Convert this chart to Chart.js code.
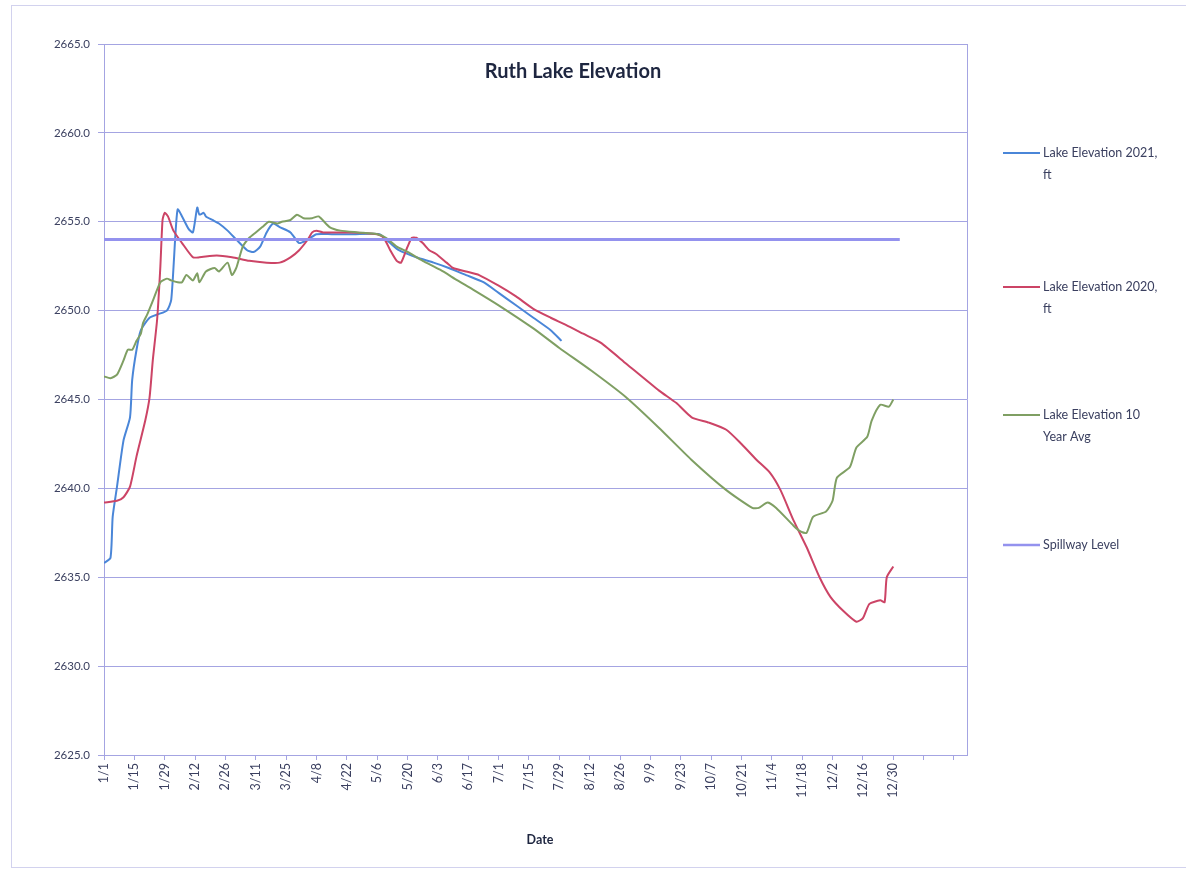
<!DOCTYPE html>
<html>
<head>
<meta charset="utf-8">
<script src="https://cdn.jsdelivr.net/npm/chart.js@4.4.1/dist/chart.umd.min.js"></script>
<style>
  html, body { margin: 0; padding: 0; background: #ffffff; }
  #wrap { position: relative; width: 1186px; height: 871px; }
</style>
</head>
<body>
<div id="wrap"><canvas id="c"></canvas></div>
<script>
// ---------- data ----------
const chartTitle = 'Ruth Lake Elevation';
const xAxisTitle = 'Date';

// x axis: day of year (0 = 1/1), tick every 14 days
const tickDays   = [0,14,28,42,56,70,84,98,112,126,140,154,168,182,196,210,224,238,252,266,280,294,308,322,336,350,364,378,392];
const tickLabels = ['1/1','1/15','1/29','2/12','2/26','3/11','3/25','4/8','4/22','5/6','5/20','6/3','6/17','7/1','7/15','7/29','8/12','8/26','9/9','9/23','10/7','10/21','11/4','11/18','12/2','12/16','12/30','',''];
const yTickValues = [2625,2630,2635,2640,2645,2650,2655,2660,2665];

const seriesNames = ['Lake Elevation 2021, ft','Lake Elevation 2020, ft','Lake Elevation 10 Year Avg','Spillway Level'];
const legendLines = [['Lake Elevation 2021,','ft'],['Lake Elevation 2020,','ft'],['Lake Elevation 10','Year Avg'],['Spillway Level']];

const days2021 = [0,3,4,6,9,12,13,15,17,21,25,29,31,33,34,36,39,41,43,44,46,47,50,53,57,61,66,69,72,75,78,81,86,90,94,98,105,115,127,132,136,144,152,159,167,175,182,190,198,206,211];
const elev2021 = [2635.8,2636.1,2638.4,2640.1,2642.7,2644.0,2646.1,2647.8,2648.9,2649.6,2649.8,2650.0,2650.6,2654.4,2655.7,2655.3,2654.6,2654.4,2655.8,2655.4,2655.5,2655.3,2655.1,2654.9,2654.5,2654.0,2653.4,2653.3,2653.6,2654.4,2654.9,2654.7,2654.4,2653.8,2654.0,2654.3,2654.3,2654.3,2654.3,2653.8,2653.4,2653.0,2652.7,2652.4,2652.0,2651.6,2651.0,2650.3,2649.6,2648.9,2648.3];

const days2020 = [0,6,9,12,15,19,21,22.5,24.5,26,27,28,29.5,32,36,41,44,52,59,67,75,81,86,90,94,96,98,101,113,126,129,132,135,137,140,142,144,147,150,153,158,161,167,173,182,190,198,206,213,221,229,241,256,264,271,279,287,294,301,307,312,318,324,330,335,341,347,350,353,358,360,361,364];
const elev2020 = [2639.2,2639.3,2639.5,2640.1,2641.8,2643.8,2645.1,2647.2,2649.5,2652.5,2655.1,2655.5,2655.3,2654.5,2653.8,2653.0,2653.0,2653.1,2653.0,2652.8,2652.7,2652.7,2653.0,2653.4,2654.0,2654.4,2654.5,2654.4,2654.4,2654.3,2654.1,2653.4,2652.8,2652.7,2653.6,2654.1,2654.1,2653.8,2653.4,2653.2,2652.7,2652.4,2652.2,2652.0,2651.4,2650.8,2650.1,2649.6,2649.2,2648.7,2648.2,2647.0,2645.5,2644.8,2644.0,2643.7,2643.3,2642.5,2641.6,2640.9,2639.9,2638.2,2636.7,2635.0,2633.9,2633.1,2632.5,2632.7,2633.5,2633.7,2633.6,2635.0,2635.6];

const daysAvg = [0,3,6,9,11,13,15,17,18,20,23,26,29,31,34,36,38,41,43,44,47,51,53,57,59,61,64,67,70,73,76,80,82,86,89,92,96,99,104,109,117,126,130,135,140,147,155,163,170,182,198,210,225,241,256,271,287,299,302,306,310,318,321,324,327,333,336,338,344,347,352,354,358,362,364];
const elevAvg = [2646.3,2646.2,2646.4,2647.2,2647.8,2647.8,2648.3,2648.7,2649.3,2649.8,2650.7,2651.6,2651.8,2651.7,2651.6,2651.6,2652.0,2651.7,2652.1,2651.6,2652.2,2652.4,2652.2,2652.7,2652.0,2652.4,2653.6,2654.1,2654.4,2654.7,2655.0,2654.9,2655.0,2655.1,2655.4,2655.2,2655.2,2655.3,2654.7,2654.5,2654.4,2654.3,2654.1,2653.6,2653.3,2652.8,2652.3,2651.7,2651.2,2650.3,2649.0,2647.9,2646.6,2645.1,2643.4,2641.6,2639.9,2638.9,2638.9,2639.2,2638.9,2637.9,2637.6,2637.5,2638.4,2638.7,2639.3,2640.6,2641.2,2642.3,2642.9,2643.8,2644.7,2644.6,2645.0];

const daysSpill = [0,367];
const elevSpill = [2654.0,2654.0];

// ---------- styling ----------
const seriesColors = ['#4a86d8','#cc4466','#7f9f63','#9492ee'];
const gridColor = '#a4a4e2';
const textColor = '#3b4060';
const FONT = 'Lato, "Liberation Sans", sans-serif';

const pts = (xs, ys) => xs.map((x, i) => ({ x: x, y: ys[i] }));
const sets = [[days2021, elev2021],[days2020, elev2020],[daysAvg, elevAvg],[daysSpill, elevSpill]];

const decor = {
  id: 'decor',
  beforeDraw(chart) {
    const ctx = chart.ctx;
    ctx.save();
    ctx.fillStyle = '#ffffff';
    ctx.fillRect(0, 0, chart.width, chart.height);
    ctx.restore();
  },
  afterDraw(chart) {
    const { ctx, chartArea: a } = chart;
    ctx.save();
    // plot frame right edge
    ctx.strokeStyle = gridColor;
    ctx.lineWidth = 1;
    ctx.beginPath();
    const rx = Math.round(a.right) + 0.5;
    ctx.moveTo(rx, a.top); ctx.lineTo(rx, a.bottom);
    ctx.stroke();
    // outer frame
    ctx.strokeStyle = '#d2d2ee';
    ctx.strokeRect(11.5, 5.5, 1180, 862);
    // title
    ctx.fillStyle = '#1e2640';
    ctx.textAlign = 'center';
    ctx.textBaseline = 'middle';
    ctx.font = 'bold 20px ' + FONT;
    ctx.fillText(chartTitle, 573, 72);
    // x axis title
    ctx.font = 'bold 12.5px ' + FONT;
    ctx.fillText(xAxisTitle, 540, 840);
    // legend
    const ly = [153, 287, 415, 545];
    ctx.textAlign = 'left';
    ctx.font = '12.5px ' + FONT;
    legendLines.forEach((lines, i) => {
      const y = ly[i];
      ctx.strokeStyle = seriesColors[i];
      ctx.lineWidth = i === 3 ? 2.5 : 2;
      ctx.beginPath(); ctx.moveTo(1003, y); ctx.lineTo(1040, y); ctx.stroke();
      ctx.fillStyle = textColor;
      lines.forEach((t, j) => ctx.fillText(t, 1043, y + j * 22));
    });
    ctx.restore();
  }
};

new Chart(document.getElementById('c'), {
  type: 'line',
  data: {
    datasets: sets.map((s, i) => ({
      label: seriesNames[i],
      data: pts(s[0], s[1]),
      borderColor: seriesColors[i],
      backgroundColor: seriesColors[i],
      borderWidth: i === 3 ? 3 : 2,
      pointRadius: 0,
      tension: 0.2,
      fill: false,
      order: 4 - i
    }))
  },
  options: {
    responsive: true,
    maintainAspectRatio: false,
    animation: false,
    events: [],
    layout: { padding: { left: 0, right: 219, top: 44, bottom: 0 } },
    plugins: { legend: { display: false }, title: { display: false }, tooltip: { enabled: false } },
    scales: {
      x: {
        type: 'linear',
        min: 0,
        max: 398,
        afterBuildTicks: (scale) => { scale.ticks = tickDays.map(v => ({ value: v })); },
        afterFit: (scale) => { scale.height = 871 - 755; },
        grid: { drawOnChartArea: false, drawTicks: true, tickLength: 5, color: gridColor },
        border: { color: gridColor, width: 1 },
        ticks: {
          autoSkip: false,
          maxRotation: 90,
          minRotation: 90,
          padding: 3,
          color: textColor,
          font: { family: FONT, size: 12.5 },
          callback: (v, i) => tickLabels[i]
        }
      },
      y: {
        min: 2625,
        max: 2665,
        afterBuildTicks: (scale) => { scale.ticks = yTickValues.map(v => ({ value: v })); },
        afterFit: (scale) => { scale.width = 104; },
        grid: { color: gridColor, tickLength: 6, lineWidth: 1 },
        border: { color: gridColor, width: 1 },
        ticks: {
          padding: 8,
          color: textColor,
          font: { family: FONT, size: 11.5 },
          callback: (v) => Number(v).toFixed(1)
        }
      }
    }
  },
  plugins: [decor]
});
</script>
</body>
</html>
